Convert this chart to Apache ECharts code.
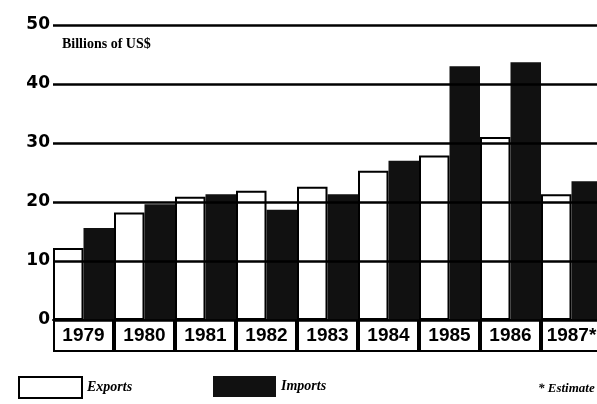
<!DOCTYPE html>
<html>
<head>
<meta charset="utf-8">
<script src="https://cdn.jsdelivr.net/npm/echarts@6/dist/echarts.min.js"></script>
<style>
  html, body { margin: 0; padding: 0; background: #fff; }
  #chart { width: 597px; height: 404px; }
</style>
</head>
<body>
<div id="chart"></div>
<script>
// trade values, billions of US$
const years = ['1979', '1980', '1981', '1982', '1983', '1984', '1985', '1986', '1987*'];
const exportsVals = [12.2, 18.2, 20.9, 21.9, 22.6, 25.3, 27.9, 31.0, 21.3];
const importsVals = [15.6, 19.6, 21.3, 18.7, 21.3, 27.0, 43.0, 43.7, 23.5];
const yTicks = { min: 0, max: 50, interval: 10 };

const chart = echarts.init(document.getElementById('chart'));

const serif = '"Liberation Serif", "DejaVu Serif", serif';
const sans = '"DejaVu Sans", sans-serif';

const legendText = { fontFamily: serif, fontStyle: 'italic', fontWeight: 'bold', fontSize: 14, color: '#000' };

chart.setOption({
    backgroundColor: '#fff',
    animation: false,
    grid: { left: 53, right: -5, top: 25, bottom: 84, outerBoundsMode: 'none' },
    legend: [
        {
            left: 18, top: 376, padding: 0,
            icon: 'rect',
            itemWidth: 63, itemHeight: 21,
            data: ['Exports'],
            textStyle: legendText
        },
        {
            left: 213, top: 376, padding: 0,
            icon: 'rect',
            itemWidth: 63, itemHeight: 21,
            data: ['Imports'],
            textStyle: legendText
        }
    ],
    graphic: [
        {
            type: 'text', left: 62, top: 37,
            style: { text: 'Billions of US$', fontFamily: serif, fontWeight: 'bold', fontSize: 14, fill: '#000' }
        },
        {
            type: 'text', left: 538, top: 382,
            style: { text: '* Estimate', fontFamily: serif, fontStyle: 'italic', fontWeight: 'bold', fontSize: 13, fill: '#000' }
        }
    ],
    xAxis: {
        type: 'category',
        data: years,
        axisLine: { show: true, lineStyle: { color: '#000', width: 2 } },
        axisTick: { show: false },
        axisLabel: {
            interval: 0,
            margin: 0,
            color: '#000',
            fontFamily: '"Liberation Sans", sans-serif',
            fontWeight: 'bold',
            fontSize: 19,
            width: 59,
            height: 31,
            lineHeight: 31,
            align: 'center',
            verticalAlign: 'top',
            borderColor: '#000',
            borderWidth: 2
        }
    },
    yAxis: {
        type: 'value',
        min: yTicks.min, max: yTicks.max, interval: yTicks.interval,
        z: 5,
        axisLine: { show: false },
        axisTick: { show: false },
        axisLabel: { margin: 3, color: '#000', fontFamily: sans, fontWeight: 'bold', fontSize: 17 },
        splitLine: { lineStyle: { color: '#000', width: 2.5 } }
    },
    series: [
        {
            name: 'Exports',
            type: 'bar',
            data: exportsVals,
            barGap: '0%',
            barCategoryGap: '0%',
            itemStyle: { color: '#fff', borderColor: '#000', borderWidth: 2 }
        },
        {
            name: 'Imports',
            type: 'bar',
            data: importsVals,
            itemStyle: { color: '#111' }
        }
    ]
});
</script>
</body>
</html>
